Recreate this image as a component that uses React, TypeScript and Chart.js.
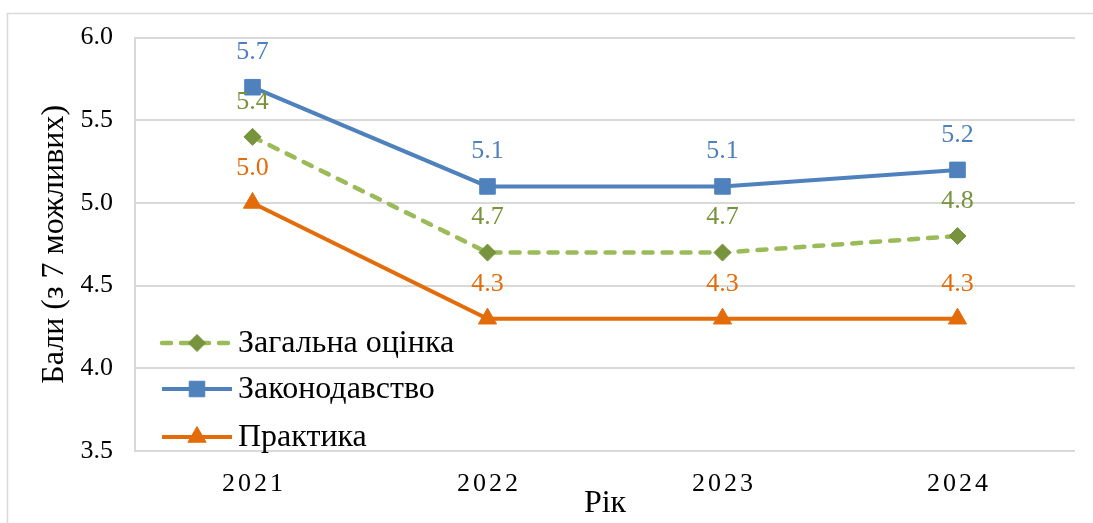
import React, { useEffect, useRef } from "react";
import { Chart, registerables } from "chart.js";

Chart.register(...registerables);

const categories = ["2021", "2022", "2023", "2024"];
const overall = [5.4, 4.7, 4.7, 4.8];
const legislation = [5.7, 5.1, 5.1, 5.2];
const practice = [5.0, 4.3, 4.3, 4.3];
const yTicks = [3.5, 4.0, 4.5, 5.0, 5.5, 6.0];
const seriesNames = ["Загальна оцінка", "Законодавство", "Практика"];

const FONT = "'Liberation Serif', 'Times New Roman', serif";
const W = 1093;
const H = 523;

const labelColors = ["#77933C", "#4F81BD", "#E36C09"];

function drawMarker(ctx: CanvasRenderingContext2D, style: string, r: number, x: number, y: number) {
  ctx.beginPath();
  if (style === "rect") {
    const s = Math.SQRT1_2 * r;
    ctx.rect(x - s, y - s, 2 * s, 2 * s);
  } else if (style === "rectRot") {
    ctx.moveTo(x - r, y);
    ctx.lineTo(x, y - r);
    ctx.lineTo(x + r, y);
    ctx.lineTo(x, y + r);
    ctx.closePath();
  } else if (style === "triangle") {
    const a = (2 * Math.PI) / 3;
    ctx.moveTo(x, y - r);
    ctx.lineTo(x + Math.sin(a) * r, y - Math.cos(a) * r);
    ctx.lineTo(x + Math.sin(2 * a) * r, y - Math.cos(2 * a) * r);
    ctx.closePath();
  }
  ctx.fill();
  ctx.stroke();
}

const framePlugin = {
  id: "frame",
  beforeDraw(chart: any) {
    const ctx = chart.ctx;
    ctx.save();
    ctx.fillStyle = "#ffffff";
    ctx.fillRect(0, 0, chart.width, chart.height);
    ctx.strokeStyle = "#d9d9d9";
    ctx.lineWidth = 1.5;
    ctx.beginPath();
    ctx.moveTo(7.5, chart.height + 2);
    ctx.lineTo(7.5, 13.5);
    ctx.lineTo(chart.width + 2, 13.5);
    ctx.stroke();
    ctx.restore();
  },
};

const xLabelsPlugin = {
  id: "xLabels",
  afterDraw(chart: any) {
    const ctx = chart.ctx;
    const xs = chart.scales.x;
    ctx.save();
    ctx.font = `26px ${FONT}`;
    ctx.fillStyle = "#000";
    ctx.textAlign = "center";
    ctx.textBaseline = "middle";
    const spacing = 3;
    (ctx as any).letterSpacing = `${spacing}px`;
    categories.forEach((c, i) => {
      const x = xs.getPixelForValue(i);
      ctx.fillText(c, x + spacing / 2, chart.chartArea.bottom + 33);
    });
    ctx.restore();
  },
};

const dataLabelsPlugin = {
  id: "dataLabels",
  afterDatasetsDraw(chart: any) {
    const ctx = chart.ctx;
    ctx.save();
    ctx.font = `26px ${FONT}`;
    ctx.textAlign = "center";
    ctx.textBaseline = "middle";
    chart.data.datasets.forEach((ds: any, di: number) => {
      const meta = chart.getDatasetMeta(di);
      ctx.fillStyle = labelColors[di];
      meta.data.forEach((pt: any, i: number) => {
        const v = ds.data[i] as number;
        ctx.fillText(v.toFixed(1), pt.x, pt.y - 35);
      });
    });
    ctx.restore();
  },
};

const legendPlugin = {
  id: "customLegend",
  afterDraw(chart: any) {
    const ctx = chart.ctx;
    const rows = [343, 389, 437];
    const x0 = 162;
    const x1 = 232;
    const mx = (x0 + x1) / 2;
    ctx.save();
    chart.data.datasets.forEach((ds: any, di: number) => {
      const y = rows[di];
      ctx.save();
      ctx.strokeStyle = ds.borderColor;
      ctx.lineWidth = ds.borderWidth;
      ctx.lineCap = ds.borderDash && ds.borderDash.length ? "round" : "butt";
      ctx.setLineDash(ds.borderDash || []);
      ctx.beginPath();
      ctx.moveTo(x0, y);
      ctx.lineTo(x1, y);
      ctx.stroke();
      ctx.restore();
      ctx.save();
      ctx.fillStyle = ds.pointBackgroundColor;
      ctx.strokeStyle = ds.pointBorderColor;
      ctx.lineWidth = 1;
      ctx.setLineDash([]);
      drawMarker(ctx, ds.pointStyle, ds.pointRadius, mx, y);
      ctx.restore();
      ctx.fillStyle = "#000";
      ctx.font = `32px ${FONT}`;
      ctx.textAlign = "left";
      ctx.textBaseline = "middle";
      ctx.fillText(ds.label, 238, y + 1);
    });
    ctx.restore();
  },
};

export default function App() {
  const ref = useRef<HTMLCanvasElement | null>(null);

  useEffect(() => {
    document.body.style.margin = "0";
    const canvas = ref.current;
    if (!canvas) return;
    const chart = new Chart(canvas, {
      type: "line",
      data: {
        labels: categories,
        datasets: [
          {
            label: seriesNames[0],
            data: overall,
            borderColor: "#9BBB59",
            borderWidth: 4.5,
            borderDash: [9, 10],
            borderCapStyle: "round",
            pointStyle: "rectRot",
            pointRadius: 8.5,
            pointHoverRadius: 8.5,
            pointBackgroundColor: "#77933C",
            pointBorderColor: "#77933C",
            pointBorderWidth: 1,
            tension: 0,
            order: 2,
          } as any,
          {
            label: seriesNames[1],
            data: legislation,
            borderColor: "#4F81BD",
            borderWidth: 4,
            pointStyle: "rect",
            pointRadius: 11,
            pointHoverRadius: 11,
            pointBackgroundColor: "#4F81BD",
            pointBorderColor: "#4F81BD",
            pointBorderWidth: 1,
            tension: 0,
            order: 1,
          } as any,
          {
            label: seriesNames[2],
            data: practice,
            borderColor: "#E36C09",
            borderWidth: 4,
            pointStyle: "triangle",
            pointRadius: 10.5,
            pointHoverRadius: 10.5,
            pointBackgroundColor: "#E36C09",
            pointBorderColor: "#E36C09",
            pointBorderWidth: 1,
            tension: 0,
            order: 0,
          } as any,
        ],
      },
      options: {
        responsive: false,
        animation: false,
        devicePixelRatio: 1,
        layout: { padding: { left: 35, right: 18, top: 35, bottom: 0 } },
        plugins: {
          legend: { display: false },
          tooltip: { enabled: false },
        },
        scales: {
          x: {
            type: "category",
            offset: true,
            grid: { display: false },
            border: { display: false },
            ticks: { display: false },
            title: {
              display: true,
              text: "Рік",
              color: "#000",
              font: { family: FONT, size: 32 },
              padding: { top: 0, bottom: 0 },
            },
            afterFit(scale: any) {
              scale.height = 72;
            },
          },
          y: {
            min: 3.5,
            max: 6.0,
            afterBuildTicks(scale: any) {
              scale.ticks = yTicks.map((v) => ({ value: v }));
            },
            ticks: {
              color: "#000",
              font: { family: FONT, size: 26 },
              padding: 22,
              callback: (v: any) => Number(v).toFixed(1),
            },
            grid: { color: "#d9d9d9", lineWidth: 2, drawTicks: false },
            border: { color: "#d9d9d9", width: 2 },
            title: {
              display: true,
              text: "Бали (з 7 можливих)",
              color: "#000",
              font: { family: FONT, size: 32 },
              padding: 0,
            },
            afterFit(scale: any) {
              scale.width = 100;
            },
          },
        },
      },
      plugins: [framePlugin, dataLabelsPlugin, xLabelsPlugin, legendPlugin],
    });
    return () => chart.destroy();
  }, []);

  return (
    <div style={{ width: W, height: H }}>
      <canvas ref={ref} width={W} height={H} style={{ display: "block" }} />
    </div>
  );
}
